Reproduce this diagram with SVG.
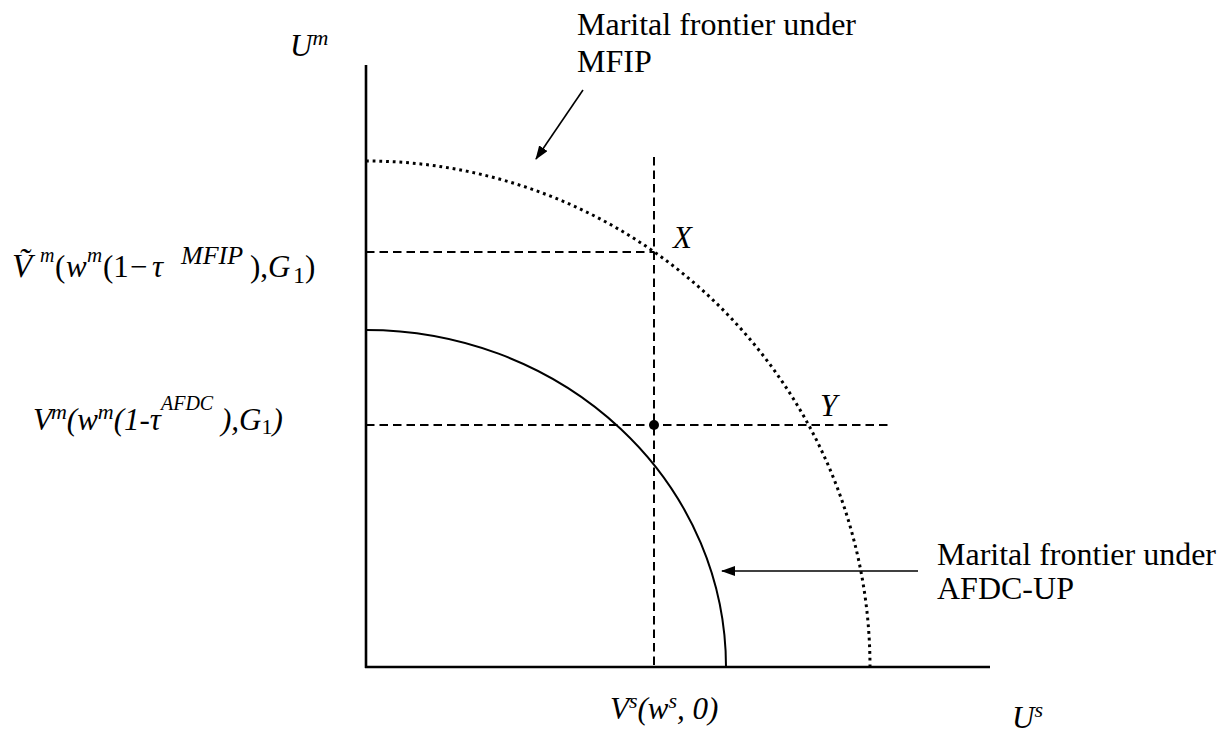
<svg xmlns="http://www.w3.org/2000/svg" width="1225" height="738" viewBox="0 0 1225 738" font-family="'Liberation Serif', 'DejaVu Serif', serif">
<style>
text{font-family:'Liberation Serif','DejaVu Serif',serif;fill:#000}
.lbl{font-size:32px}
.it{font-style:italic}
.up{font-style:normal}
.m{font-size:31px}
.sup{font-size:22px}
.axis{stroke:#000;stroke-width:2.6;fill:none}
.solid{stroke:#000;stroke-width:2;fill:none}
.dot{stroke:#000;stroke-width:3;fill:none;stroke-dasharray:2.8 3.9}
.dash{stroke:#000;stroke-width:2;fill:none;stroke-dasharray:8.5 5}
.arr{stroke:#000;stroke-width:1.6;fill:none;marker-end:url(#ah)}
</style>
<defs>
<marker id="ah" viewBox="0 0 14 10" refX="13" refY="5" markerWidth="14" markerHeight="10" markerUnits="userSpaceOnUse" orient="auto">
<path d="M0,0 L14,5 L0,10 Z" fill="#000"/>
</marker>
</defs>
<rect width="1225" height="738" fill="#fff"/>
<g id="axes">
<line class="axis" x1="366" y1="65" x2="366" y2="668"/>
<line class="axis" x1="365" y1="667" x2="990" y2="667"/>
</g>
<g id="frontier-afdc">
<path class="solid" d="M366,330 A360,337 0 0 1 726,667"/>
</g>
<g id="frontier-mfip">
<path class="dot" d="M366,161 A504,506 0 0 1 870,667"/>
</g>
<g id="connectors">
<line class="dash" x1="654" y1="157" x2="654" y2="667"/>
<line class="dash" x1="366" y1="252" x2="654" y2="252"/>
<line class="dash" x1="366" y1="425" x2="892" y2="425"/>
<line class="arr" x1="583" y1="90" x2="536" y2="159"/>
<line class="arr" x1="918" y1="571" x2="722" y2="571"/>
</g>
<g id="point">
<circle cx="654" cy="425" r="5" fill="#000"/>
</g>
<g id="label-mfip">
<text class="lbl" x="577" y="35">Marital frontier under</text>
<text class="lbl" x="577" y="72">MFIP</text>
</g>
<g id="label-afdc">
<text class="lbl" x="937" y="565">Marital frontier under</text>
<text class="lbl" x="937" y="599">AFDC-UP</text>
</g>
<g id="axis-labels">
<text class="m it" x="290" y="56">U<tspan class="sup" dy="-11">m</tspan></text>
<text class="m it" x="1012" y="728">U<tspan class="sup" dy="-11">s</tspan></text>
<text class="m it" x="610" y="719">V<tspan class="sup" dy="-11">s</tspan><tspan dy="11">(w</tspan><tspan class="sup" dy="-11">s</tspan><tspan dy="11">, 0)</tspan></text>
</g>
<g id="point-labels">
<text class="m it" x="673" y="248">X</text>
<text class="m it" x="820" y="416">Y</text>
</g>
<g id="formula-mfip">
<text class="m it" x="12" y="277" style="font-size:33px">V&#x303;</text>
<text class="sup it" x="40" y="262" style="font-size:20px">m</text>
<text class="m" x="55" y="277">(</text>
<text class="m it" x="66" y="277">w</text>
<text class="sup it" x="87" y="262" style="font-size:21px">m</text>
<text class="m" x="103" y="277">(1</text>
<text class="m" x="130" y="277">−</text>
<text class="m it" x="152" y="277">τ</text>
<text class="sup it" x="181" y="264" style="font-size:26px">MFIP</text>
<text class="m" x="250" y="277">),</text>
<text class="m it" x="268" y="277">G</text>
<text class="sup" x="293" y="283" style="font-size:24px">1</text>
<text class="m" x="305" y="277">)</text>
</g>
<g id="formula-afdc">
<text class="m it" x="33" y="430">V<tspan class="sup" dx="-1" dy="-11">m</tspan><tspan dy="11">(w</tspan><tspan class="sup" dy="-11">m</tspan><tspan dy="11">(1-τ</tspan><tspan class="sup" dy="-20" style="font-size:20px">AFDC</tspan><tspan dy="20"> ),G</tspan><tspan class="sup up" dy="4">1</tspan><tspan dy="-4">)</tspan></text>
</g>
</svg>
